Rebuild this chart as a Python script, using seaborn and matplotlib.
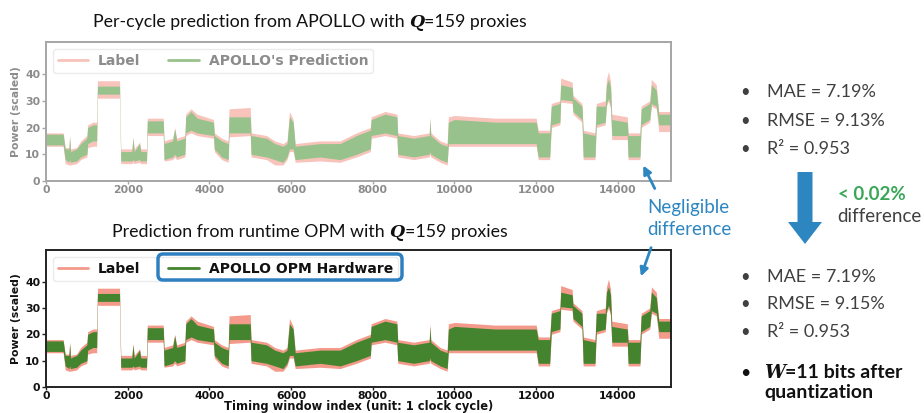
import numpy as np
import pandas as pd
import seaborn as sns
import matplotlib
matplotlib.use("Agg")
import matplotlib.pyplot as plt
from matplotlib.lines import Line2D
from matplotlib.patches import FancyBboxPatch, FancyArrow

# ---------------- data (envelopes) ----------------
x_pts = [0, 420, 470, 560, 580, 600, 750, 850, 1000, 1020, 1150, 1240, 1260, 1800,
         1830, 2100, 2130, 2160, 2290, 2320, 2460, 2480, 2870, 2890, 3100, 3150, 3200,
         3400, 3420, 3550, 3700, 4100, 4120, 4300, 4460, 4480, 5000, 5020, 5400, 5600,
         5800, 5900, 5960, 6050, 6100, 6710, 7200, 7600, 7940, 7960, 8300, 8590, 8610,
         9000, 9380, 9400, 9420, 9650, 9820, 9850, 10000, 11000, 12000, 12050, 12330,
         12370, 12580, 12600, 12880, 12900, 13120, 13150, 13440, 13470, 13690, 13720,
         13770, 13820, 13850, 14230, 14250, 14540, 14570, 14780, 14820, 14940, 15000, 15300]
pred_lo = [13.5, 13.5, 8, 7, 8, 7, 7.5, 9, 10, 14, 15, 15, 32.5, 32.5,
           7.5, 7.5, 8, 7.5, 8, 7.5, 7.5, 18, 18, 8, 9, 10, 9,
           10, 18, 19, 18, 17, 12, 9, 8, 18, 18, 10, 9, 8,
           7, 9, 12, 12, 8, 9, 8, 10, 12, 17, 18, 17, 10,
           9, 10, 11, 10, 8, 7, 14, 14, 14, 14, 9, 9,
           21, 22, 30.5, 30, 26, 23, 9, 9, 21, 22, 29,
           31, 28, 17, 17, 9, 9, 21, 23, 29, 28, 21, 21]
pred_hi = [17.5, 17.5, 12, 12, 16.5, 11, 12, 14, 16, 20, 21, 21, 35.5, 35.5,
           11, 11, 16, 11, 14, 11, 11, 22.5, 22.5, 14, 15, 19.5, 15,
           16, 24, 26, 23.5, 22, 17, 15, 14, 24, 24, 17, 16, 14,
           13, 14, 24, 22, 13, 14, 14, 17, 19, 23, 25, 24, 17,
           16, 17, 23, 17, 14, 13, 22, 23, 22, 22, 18, 18,
           28, 29, 36, 35, 31, 28, 18, 17, 28, 28, 36,
           38, 35, 23, 22, 17, 17, 27, 29, 36, 34, 25, 25]
label_lo = [13, 13, 6.5, 6, 6, 6, 6.5, 8, 9, 12.5, 13, 13, 31, 31,
            6.5, 6.5, 7, 6.5, 7, 6.5, 6.5, 17, 17, 7.5, 8, 9, 8,
            9, 17, 18, 17, 16, 11, 8, 7, 16.5, 17, 9, 8, 6,
            6, 8, 11, 11, 7, 7.5, 7, 9, 11, 16, 17, 16, 9,
            8, 9, 10, 9, 7, 6, 13, 13, 13, 13, 8, 8,
            20, 21, 29.5, 29, 25, 22, 8, 8, 20, 21, 28,
            30, 27, 15.5, 15.5, 8, 8, 20, 22, 28, 27, 18.5, 18.5]
label_hi = [18, 18, 12.5, 12.5, 17, 12, 12.5, 15, 17, 21, 22, 22, 37.5, 37.5,
            12, 12, 16.5, 12, 14.5, 12, 12, 23.5, 23.5, 15, 16, 20, 16,
            17, 25, 27, 25, 23, 18, 16, 15, 27, 27.5, 18, 17, 15,
            14, 15, 26, 23, 14, 15, 15, 18, 20, 24, 26, 25, 18,
            17, 18, 24, 18, 15, 14, 24, 24.5, 23.5, 23.5, 19, 19,
            29, 30, 38.5, 37, 32, 29, 19, 18, 29, 30, 38,
            41, 37, 25, 24, 18, 18, 28, 30, 38, 36, 26, 26]

x_ticks = [0, 2000, 4000, 6000, 8000, 10000, 12000, 14000]
y_ticks = [0, 10, 20, 30, 40]
x_max = 15300
y_max = 52

title_top = ["Per-cycle prediction from APOLLO with", "Q", "=159 proxies"]
title_bot = ["Prediction from runtime OPM with", "Q", "=159 proxies"]
legend_top = ["Label", "APOLLO's Prediction"]
legend_bot = ["Label", "APOLLO OPM Hardware"]
metrics_sw = ["MAE = 7.19%", "RMSE = 9.13%", "R\u00b2 = 0.953"]
metrics_hw = ["MAE = 7.19%", "RMSE = 9.15%", "R\u00b2 = 0.953"]

# ---------------- style ----------------
sns.set_theme(style="ticks")
plt.rcParams["font.family"] = ["DejaVu Sans"]

BLUE = "#2e86c1"
fig = plt.figure(figsize=(9.24, 4.13), dpi=100)
fig.patch.set_facecolor("white")

def long_df(lo, hi):
    return pd.DataFrame({"x": list(x_pts) + list(x_pts),
                         "y": list(lo) + list(hi)})

def band(ax, lo, hi, color):
    sns.lineplot(data=long_df(lo, hi), x="x", y="y", ax=ax,
                 estimator="mean", errorbar=lambda v: (v.min(), v.max()),
                 color=color, linewidth=0,
                 err_kws={"alpha": 1.0, "linewidth": 0})

def setup_axes(ax, txt_color, spine_color, lab_c, pred_c, leg_labels, xlabel=None):
    band(ax, label_lo, label_hi, lab_c)
    band(ax, pred_lo, pred_hi, pred_c)
    ax.set_xlim(0, x_max)
    ax.set_ylim(0, y_max)
    ax.set_xticks(x_ticks)
    ax.set_yticks(y_ticks)
    ax.tick_params(axis="both", labelsize=7.8, colors=spine_color, labelcolor=txt_color,
                   length=3.0, width=1, pad=1.2)
    ax.tick_params(axis="x", length=2.5, pad=0.6)
    for t in ax.get_xticklabels() + ax.get_yticklabels():
        t.set_fontweight("bold")
    for s in ax.spines.values():
        s.set_visible(True)
        s.set_color(spine_color)
        s.set_linewidth(1.4)
    ax.set_ylabel("Power (scaled)", fontsize=7.8, fontweight="bold", color=txt_color, labelpad=3)
    if xlabel:
        ax.set_xlabel(xlabel, fontsize=8.3, fontweight="bold", color=txt_color)
        ax.xaxis.set_label_coords(0.5, -0.097)
    else:
        ax.set_xlabel("")
    handles = [Line2D([], [], color=lab_c, lw=2, label=leg_labels[0]),
               Line2D([], [], color=pred_c, lw=2, label=leg_labels[1])]
    leg = ax.legend(handles=handles, loc="upper left", ncol=2,
                    prop={"weight": "bold", "size": 10}, frameon=True,
                    handlelength=2.2, handletextpad=0.7, columnspacing=2.0,
                    borderaxespad=0.5, labelcolor=txt_color, fancybox=True,
                    borderpad=0.35)
    leg.get_frame().set_edgecolor("#e6e6e6")
    leg.get_frame().set_linewidth(1.0)

ax1 = fig.add_axes([46/924, 1-181/413, 625/924, 139/413])
setup_axes(ax1, "#8c8c8c", "#a6a6a6", "#f7c3bb", "#97c28c", legend_top)

ax2 = fig.add_axes([46/924, 1-387/413, 625/924, 137/413])
setup_axes(ax2, "#111111", "#222222", "#f39a8b", "#44842f", legend_bot,
           xlabel="Timing window index (unit: 1 clock cycle)")

# ---------------- overlay in pixel coordinates ----------------
ov = fig.add_axes([0, 0, 1, 1])
ov.set_xlim(0, 924)
ov.set_ylim(413, 0)
ov.axis("off")

renderer = fig.canvas.get_renderer()

def measure(s, **kw):
    a = ov.text(0, 0, "|" + s + "|", **kw)
    b = ov.text(0, 0, "||", **kw)
    w = a.get_window_extent(renderer).width - b.get_window_extent(renderer).width
    a.remove(); b.remove()
    return w

def rich(x, y, parts, ha="left"):
    widths = [measure(s, **kw) for s, kw in parts]
    start = x - sum(widths) / 2 if ha == "center" else x
    for (s, kw), w in zip(parts, widths):
        ov.text(start, y, s, va="baseline", ha="left", **kw)
        start += w

SANS = ["Lato", "DejaVu Sans"]
QFONT = dict(family=["DejaVu Serif"], weight="bold", style="italic")

def title(y, parts):
    body = dict(family=SANS, size=12.8, color="#111111")
    rich(310, y, [(parts[0] + " ", body),
                  (parts[1], dict(QFONT, size=12.5, color="#111111")),
                  (parts[2], body)], ha="center")

title(27, title_top)
title(237, title_bot)

# metrics text
MCOL = "#404040"
MS = 13
for yb, s in zip([97, 126, 154], metrics_sw):
    ov.text(745, yb, "\u2022", family=SANS, size=12, color=MCOL, va="baseline", ha="center")
    ov.text(767, yb, s, family=SANS, size=MS, color=MCOL, va="baseline")
for yb, s in zip([282, 309, 337], metrics_hw):
    ov.text(745, yb, "\u2022", family=SANS, size=12, color=MCOL, va="baseline", ha="center")
    ov.text(767, yb, s, family=SANS, size=MS, color=MCOL, va="baseline")

ov.text(745, 378, "\u2022", family=SANS, size=13, color="#111111", va="baseline", ha="center")
rich(764, 378, [("W", dict(QFONT, size=13.5, color="#111111")),
                ("=11 bits after", dict(family=SANS, size=14, weight="bold", color="#111111"))])
ov.text(764, 398, "quantization", family=SANS, size=14, weight="bold",
        color="#111111", va="baseline")

# big down arrow
ov.add_patch(FancyArrow(805, 172, 0, 72, width=15, head_width=34, head_length=22,
                        length_includes_head=True, color=BLUE, lw=0))
ov.text(838, 200, "< 0.02%", family=SANS, size=13.5, weight="bold", color="#3aa657", va="baseline")
ov.text(837, 222, "difference", family=SANS, size=13.5, color=MCOL, va="baseline")

# negligible difference annotation
ov.text(647, 213, "Negligible", family=SANS, size=13.5, color=BLUE, va="baseline")
ov.text(647, 235, "difference", family=SANS, size=13.5, color=BLUE, va="baseline")
ov.annotate("", xy=(642, 163), xytext=(656, 191),
            arrowprops=dict(arrowstyle="-|>", color=BLUE, lw=2, mutation_scale=12))
ov.annotate("", xy=(640, 279), xytext=(652, 245),
            arrowprops=dict(arrowstyle="-|>", color=BLUE, lw=2, mutation_scale=12))

# blue highlight box around hardware legend entry
ov.add_patch(FancyBboxPatch((158, 254), 244, 26,
                            boxstyle="round,pad=0,rounding_size=5",
                            fill=False, ec="#2f80c0", lw=2.5))

fig.savefig("out.png", dpi=100)
